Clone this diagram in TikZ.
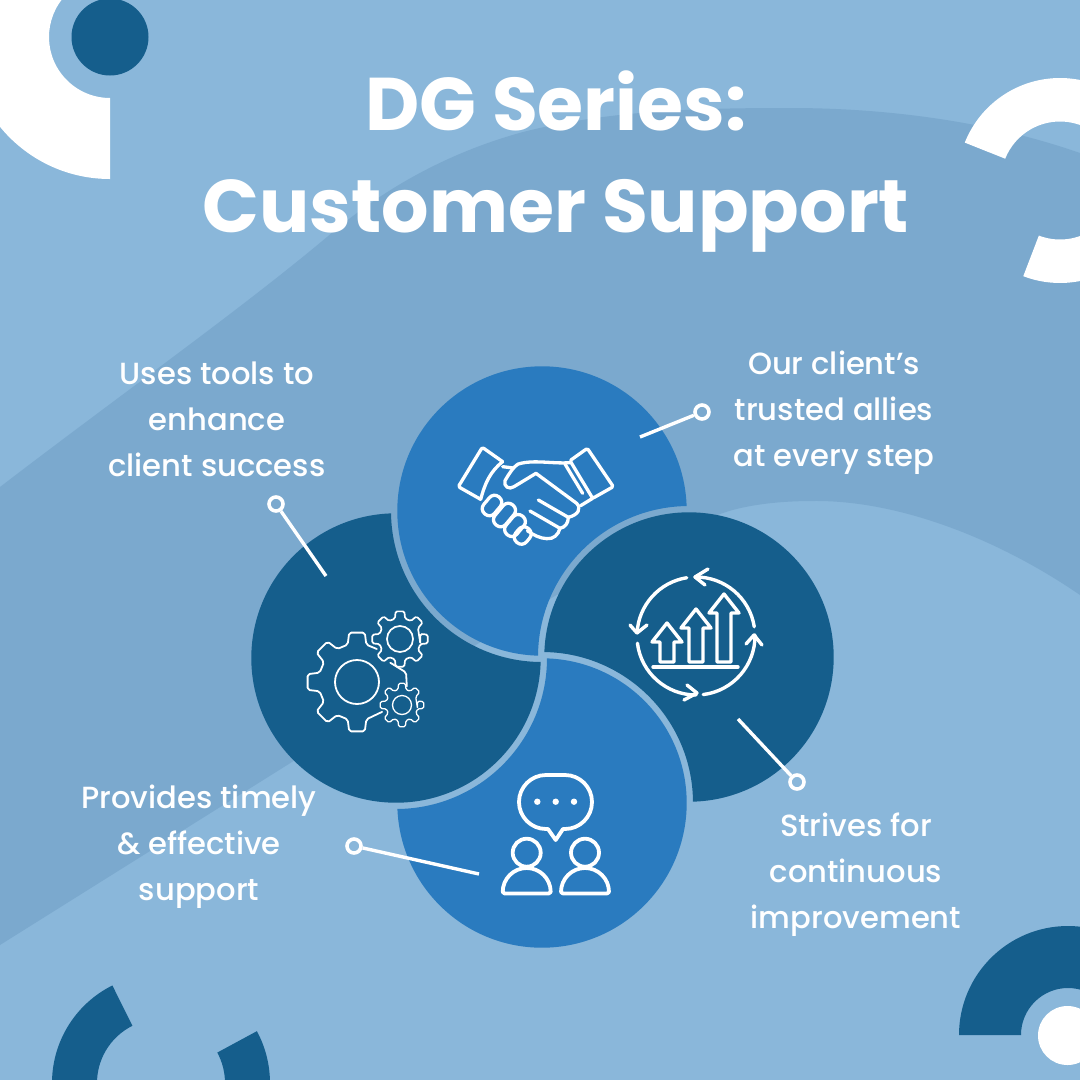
\documentclass[tikz,border=0pt]{standalone}
\usepackage{fontspec}
\setmainfont{Poppins Medium}[BoldFont={Poppins Bold}]
\usepackage{tikz}
\usetikzlibrary{positioning,calc}

\definecolor{bglight}{HTML}{8AB7DA}
\definecolor{bgwave}{HTML}{7BA9CE}
\definecolor{petaldark}{HTML}{155E8C}
\definecolor{petalblue}{HTML}{2A7BBF}

\begin{document}
\begin{tikzpicture}[
    x=1pt,y=-1pt,
    whitefill/.style={fill=white},
    darkfill/.style={fill=petaldark},
    icon/.style={draw=white,line join=round,line cap=round},
    ringnode/.style={circle,draw=white,line width=3.6pt,minimum size=14pt,inner sep=0pt},
    leader/.style={draw=white,line width=3.4pt},
    bodytext/.style={text=white,align=center,font=\fontsize{30.6}{46}\selectfont},
    titletext/.style={text=white,align=center,font=\fontsize{74.6}{102}\selectfont\bfseries}]

    \useasboundingbox (0,0) rectangle (1080,1080);
    \clip (0,0) rectangle (1080,1080);
    \fill[bglight] (0,0) rectangle (1080,1080);

    % background wave
    \fill[bgwave] (0,487) .. controls (120,395) and (240,310) .. (327,237)
      .. controls (385,187) and (450,152) .. (523,132)
      .. controls (610,110) and (700,108) .. (790,108)
      .. controls (900,108) and (1000,125) .. (1080,153)
      -- (1080,595) .. controls (1000,540) and (900,500) .. (813,501)
      .. controls (770,501) and (740,507) .. (723,513)
      .. controls (600,555) and (450,665) .. (292,762)
      -- (0,945) -- cycle;

    % corner shapes
    \coordinate (tlc) at (110,37);
    \coordinate (trc) at (1060,180.5);
    \coordinate (blc) at (161,1083);
    \fill[whitefill] ($(tlc)+(90:142)$) arc (90:230:142) -- ($(tlc)+(230:61)$)
      arc (230:90:61) -- cycle;
    \fill[darkfill] (tlc) circle (38.5);
    \fill[whitefill] ($(trc)+(201.7:102.5)$) arc (201.7:300:102.5)
      -- ($(trc)+(300:59)$) arc (300:201.7:59) -- cycle;
    \fill[whitefill] ($(trc)+(111:102.5)$) arc (111:60:102.5)
      -- ($(trc)+(60:59)$) arc (60:111:59) -- cycle;
    \fill[darkfill] (959,1035) arc (180:360:109) -- (1115,1035) arc (360:180:47) -- cycle;
    \fill[whitefill] (1067.5,1035.5) circle (29.5);
    \fill[darkfill] ($(blc)+(243.5:109)$) arc (243.5:150:109)
      -- ($(blc)+(150:64)$) arc (150:243.5:64) -- cycle;
    \fill[darkfill] ($(blc)+(331.6:109)$) arc (331.6:390:109)
      -- ($(blc)+(390:64)$) arc (390:331.6:64) -- cycle;

    % petals, each one cut by the next
    \foreach \cx/\cy/\nx/\ny/\col in {396/658/542/511/petaldark,
                                      542/511/689/657/petalblue,
                                      689/657/542/803/petaldark,
                                      542/803/396/658/petalblue} {
      \begin{scope}[even odd rule]
        \clip (0,0) rectangle (1080,1080) (\nx,\ny) circle (151);
        \fill[\col] (\cx,\cy) circle (144.7);
      \end{scope}
    }

    % handshake
    \begin{scope}[shift={(450,440)},x=0.3333pt,y=-0.3333pt,icon,line width=3.3pt]
      \draw[rounded corners=1.5pt] (92,178) -- (25,140) -- (97,22) -- (158,65);
      \draw (92,178) .. controls (105,130) and (120,95) .. (158,65);
      \draw[rounded corners=1.5pt] (360,62) -- (412,25) -- (490,140) -- (428,175) -- cycle;
      \draw (345,72) -- (398,160);
      \draw (158,80) -- (190,84);
      \draw (360,68) .. controls (310,72) and (250,58) .. (205,72)
        .. controls (190,80) and (175,105) .. (165,122)
        .. controls (160,140) and (178,150) .. (192,140) -- (258,100) -- (380,190)
        .. controls (395,205) and (385,225) .. (355,232)
        .. controls (355,250) and (345,262) .. (330,265)
        .. controls (325,285) and (310,298) .. (290,296)
        .. controls (270,295) and (250,285) .. (232,272);
      \draw (265,180) -- (355,232);
      \draw (240,213) -- (330,265);
      \draw (392,197) -- (428,175);
    \end{scope}
    \foreach \fx/\fy/\flen in {492/505.5/11,504.5/515/13,515/525.5/12,522.7/535.5/9} {
      \draw[icon,line width=3.3pt,shift={(\fx,\fy)},rotate=50,rounded corners=6.5pt]
        (-\flen,-7) rectangle (\flen,7);
    }

    % gears
    \draw[icon,line width=1.8pt] (357,682) circle (22);
    \draw[icon,line width=1.8pt,shift={(357,682)},rounded corners=2pt] (301:38.5)
      foreach \a in {270,225,180,135,90} {
        -- (\a+14:38.5) -- (\a+9:50) -- (\a-9:50) -- (\a-14:38.5)
      } -- (50:39);
    \draw[icon,line width=1.8pt,shift={(357,682)},rounded corners=2pt] (-30:38.5) -- (-11:50) -- (5:50);
    \foreach \gx/\gy/\gin/\gbody/\gtip/\gw in {400/639/13/21/28/1.7,402/705/9.5/16/22/1.3} {
      \draw[icon,line width=\gw pt] (\gx,\gy) circle (\gin);
      \draw[icon,line width=\gw pt,shift={(\gx,\gy)},rounded corners=1.5pt] (14:\gbody)
        foreach \a in {0,45,...,315} {
          -- (\a-14:\gbody) -- (\a-9:\gtip) -- (\a+9:\gtip) -- (\a+14:\gbody)
        } -- cycle;
    }

    % growth arrows in a ring
    \begin{scope}[icon,line width=3.4pt]
      \draw ($(696,636)+(261:59)$) arc (261:183:59);
      \draw (630,625) -- (637,633) -- (647,625);
      \draw ($(696,636)+(173:59)$) arc (173:90:59);
      \draw (687,685) -- (697,693) -- (684,700);
      \draw ($(696,636)+(83:59)$) arc (83:-1:59);
      \draw (746,644) -- (754,635) -- (762,645);
      \draw ($(696,636)+(-9:59)$) arc (-9:-91:59);
      \draw (708,569) -- (695,577) -- (705,585);
      \foreach \ax/\ay in {667/623,696/609,724/594} {
        \draw (\ax,\ay) -- (\ax-15,\ay+19) -- (\ax-7,\ay+19) -- (\ax-7,662)
          -- (\ax+7,662) -- (\ax+7,\ay+19) -- (\ax+15,\ay+19) -- cycle;
      }
      \draw (653,667) -- (738,667);
    \end{scope}

    % people with speech bubble
    \begin{scope}[icon,line width=3.8pt]
      \draw (546,829) arc (90:270:27) -- (565,775) arc (270:450:27)
        -- (563,829) -- (555.7,840) -- (548,829) -- cycle;
      \foreach \px in {526.7,585} {
        \draw (\px,852.7) circle (14);
        \draw (\px-24,892) arc (180:360:24) -- (\px+22,893.5) -- (\px-22,893.5) -- cycle;
      }
    \end{scope}
    \foreach \dx in {537.3,555.7,574} {
      \fill[white] (\dx,801.7) circle (3.2);
    }

    % title and labels
    \node[titletext] (title) at (556,162) {DG Series:\\Customer Support};
    \node[bodytext] (tools)   at (217,419) {Uses tools to\\enhance\\client success};
    \node[bodytext] (allies)  at (834,413) {Our client’s\\trusted allies\\at every step};
    \node[bodytext] (timely)  at (199,847) {Provides timely\\\& effective\\support};
    \node[bodytext] (strives) at (856,875) {Strives for\\continuous\\improvement};

    % leaders
    \node[ringnode] (dottools)   at (276,504) {};
    \node[ringnode] (dotallies)  at (702,412) {};
    \node[ringnode] (dottimely)  at (354,846) {};
    \node[ringnode] (dotstrives) at (797,782) {};
    \coordinate (endtools)   at (326,576);
    \coordinate (endallies)  at (640,437);
    \coordinate (endtimely)  at (479,874);
    \coordinate (endstrives) at (738,719);
    \draw[leader] (dottools) -- (endtools);
    \draw[leader] (dotallies) -- (endallies);
    \draw[leader] (dottimely) -- (endtimely);
    \draw[leader] (dotstrives) -- (endstrives);
\end{tikzpicture}
\end{document}
